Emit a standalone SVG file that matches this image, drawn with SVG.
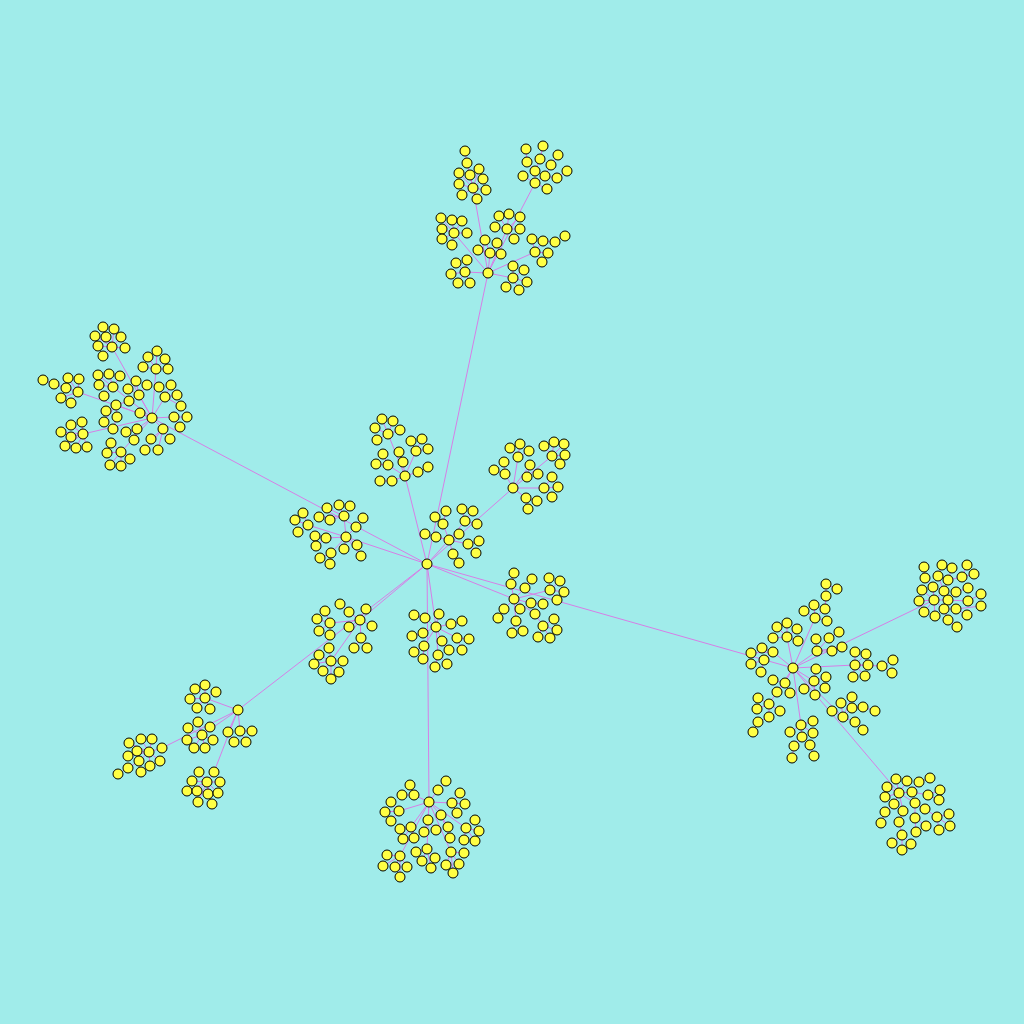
<svg xmlns="http://www.w3.org/2000/svg" width="1024" height="1024" viewBox="0 0 1024 1024">
<style>
.e{stroke:#d67fe6;stroke-width:1;fill:none}
circle{r:5px;fill:#ffff44;stroke:#000;stroke-width:1}
</style>
<rect width="1024" height="1024" fill="#a0ecea"/>
<g id="connectors">
<path class="e" d="M427 564L488 273M427 564L152 418M427 564L346 537M427 564L405 476M427 564L449 540M427 564L513 488M427 564L514 599M427 564L793 668M427 564L360 620M427 564L238 710M427 564L436 627M427 564L429 802M793 668L934 600M793 668L899 793"/>
<path class="e" d="M488 273L473 188M488 273L535 183M488 273L454 233M488 273L507 229M488 273L490 253M488 273L535 252M488 273L465 272M488 273L513 278M473 188L467 163L465 151M473 188L479 169M473 188L459 173M473 188L470 175M473 188L483 179M473 188L459 184M473 188L486 190M473 188L462 195M473 188L477 199M535 183L535 171L527 162L526 149M535 171L540 159L543 146M535 183L545 176L551 165L558 155M545 176L557 178L567 171M535 183L523 176M535 183L547 189M454 233L441 218M454 233L452 220M454 233L462 221M454 233L442 229M454 233L467 233M454 233L442 239M454 233L452 245M507 229L499 216M507 229L509 214M507 229L520 217M507 229L495 227M507 229L520 229M507 229L514 239M490 253L485 240M490 253L497 243M490 253L478 250M490 253L501 254M535 252L532 239M535 252L543 241L555 242L565 236M535 252L548 253M535 252L542 262M465 272L456 263M465 272L467 260M465 272L451 274M465 272L458 283M465 272L470 283M513 278L513 266M513 278L524 270M513 278L527 282M513 278L506 287M513 278L519 290"/>
<path class="e" d="M152 418L112 347M152 418L156 369M152 418L78 392M152 418L113 387M152 418L139 395M152 418L165 397M152 418L116 405M152 418L174 417M152 418L137 429M152 418L163 429M152 418L121 452M152 418L83 434M152 418L140 413M112 347L103 327M112 347L114 329M112 347L95 336M112 347L106 337M112 347L121 337M112 347L98 346M112 347L125 348M112 347L103 356M156 369L157 351M156 369L148 357M156 369L165 359M156 369L143 367M156 369L168 369M78 392L66 388L54 384L43 380M78 392L68 378M78 392L79 379M78 392L61 398M78 392L71 403M113 387L98 375M113 387L109 374M113 387L120 376M113 387L99 385M113 387L104 396M139 395L136 381M139 395L147 385M139 395L128 389M165 397L159 387M165 397L171 385M165 397L177 395M165 397L181 406M116 405L129 401M116 405L106 411M116 405L117 417M116 405L104 422M117 417L113 429M174 417L187 417M174 417L180 427M137 429L126 432M137 429L134 440M163 429L151 439M163 429L170 439M163 429L145 450M163 429L158 450M121 452L111 443M121 452L107 453M121 452L130 459M121 452L110 465M121 452L121 466M83 434L71 425M83 434L82 422M83 434L61 432M83 434L71 437M83 434L65 446M83 434L76 448M83 434L87 447"/>
<path class="e" d="M405 476L388 434M405 476L416 451M405 476L403 462M405 476L388 465M405 476L418 472L428 467M405 476L392 481L380 481M388 434L382 419M388 434L393 421M388 434L375 428M388 434L400 430M388 434L377 440M416 451L411 441M416 451L422 439M416 451L428 449M403 462L399 452M388 465L383 454M388 465L376 464"/>
<path class="e" d="M346 537L344 516M346 537L308 525M346 537L326 538M346 537L356 527M346 537L331 553M346 537L357 545M346 537L344 549M346 537L361 556M344 516L339 505M344 516L350 506M344 516L327 508M344 516L330 520M344 516L319 517M308 525L303 513M308 525L295 520M308 525L298 532M326 538L315 536M326 538L316 546M356 527L363 518M331 553L320 558M331 553L330 564"/>
<path class="e" d="M449 540L443 524M449 540L465 521M449 540L425 534M449 540L436 537M449 540L468 544M449 540L453 554L459 563M449 540L459 534M443 524L435 517M443 524L446 511M465 521L462 509M465 521L473 511M465 521L477 524M468 544L479 541M468 544L476 553"/>
<path class="e" d="M513 488L518 457M513 488L505 474M513 488L552 456M513 488L530 465M513 488L544 488M513 488L526 498M518 457L510 448M518 457L520 444M518 457L529 451M505 474L504 462M505 474L494 470M552 456L544 446M552 456L554 442M552 456L564 444M552 456L565 455M552 456L560 464M530 465L538 474M530 465L527 477M544 488L552 477M544 488L558 487M544 488L552 497M526 498L537 501M526 498L528 509"/>
<path class="e" d="M360 620L330 623M360 620L349 612L340 604M360 620L366 609M360 620L372 626M360 620L349 627M360 620L361 638M360 620L331 661M330 623L325 611M330 623L317 619M330 623L319 631M330 623L330 635M361 638L354 648M361 638L367 648M331 661L329 648M331 661L319 655M331 661L343 661M331 661L314 664M331 661L323 671M331 661L339 672M331 661L331 679"/>
<path class="e" d="M436 627L425 618L414 615M436 627L451 624L462 621M436 627L439 614M436 627L423 633L412 636M436 627L457 638M436 627L442 641M436 627L424 646M436 627L438 655M457 638L469 639M457 638L462 650M442 641L449 650M424 646L414 652M424 646L423 659M438 655L435 667M438 655L447 664"/>
<path class="e" d="M514 599L511 584L514 573M514 599L525 588L532 579M514 599L550 590M514 599L531 603L543 604M514 599L504 609L498 618M514 599L520 609M514 599L535 614L543 626M514 599L516 621M550 590L549 578M550 590L560 581M550 590L564 592M550 590L557 600M516 621L512 633M516 621L523 631M543 626L554 619M543 626L557 630M543 626L538 637M543 626L550 638"/>
<path class="e" d="M238 710L205 698M238 710L202 735M238 710L240 731M238 710L228 732L234 742M238 710L162 748M238 710L214 772M205 698L195 689M205 698L205 685M205 698L216 692M205 698L190 699M205 698L197 708M205 698L210 709M202 735L198 722M202 735L210 727M202 735L188 728M202 735L187 740M202 735L213 740M202 735L194 748M202 735L205 748M240 731L252 731M240 731L246 742M162 748L149 752M149 752L141 739M149 752L152 739M149 752L129 743M149 752L137 751M149 752L128 756M149 752L139 761M149 752L150 766M149 752L160 761M139 761L128 768M139 761L141 772M128 768L118 774M214 772L207 782M207 782L199 772M207 782L192 781M207 782L220 782M207 782L187 791M207 782L197 791M207 782L208 794M207 782L218 793M207 782L198 802M207 782L212 804"/>
<path class="e" d="M429 802L414 795M429 802L438 790M429 802L399 811M429 802L452 803M429 802L411 827M429 802L428 820M429 802L441 815M429 802L466 828M429 802L400 856M429 802L427 849M429 802L451 852M414 795L410 785M414 795L402 795M438 790L446 781M399 811L391 802M399 811L385 812M399 811L391 821M452 803L460 793M452 803L465 804M452 803L457 813M411 827L400 829M411 827L403 839M411 827L414 838M428 820L424 832M428 820L436 830M441 815L448 827M441 815L450 838M466 828L475 820M466 828L479 831M466 828L464 840M466 828L475 841M400 856L387 855M400 856L383 866M400 856L395 867M400 856L407 867M400 856L400 877M427 849L416 852M427 849L422 861M427 849L435 858M427 849L431 868M451 852L464 853M451 852L446 865M451 852L459 864M451 852L453 873"/>
<path class="e" d="M793 668L815 618M793 668L787 637M793 668L817 651M793 668L773 652M793 668L855 665L882 666M793 668L814 681M793 668L785 683M793 668L769 704M793 668L843 717M793 668L801 725M815 618L825 609L826 596L826 584M826 584L837 589M815 618L814 605M815 618L804 611M815 618L827 621M787 637L787 623M787 637L777 627M787 637L797 629M787 637L773 638M787 637L798 641M817 651L816 639M817 651L829 638L839 632M817 651L832 651M817 651L842 647M773 652L762 648M773 652L751 653M773 652L764 660M764 660L751 664M764 660L761 672M855 665L855 652M855 665L866 654M855 665L868 665M855 665L853 677M855 665L865 676M882 666L893 660M882 666L892 673M814 681L816 669M814 681L826 677M814 681L804 689M814 681L825 688M814 681L815 695M785 683L773 680M785 683L777 692M785 683L790 693M769 704L758 698M769 704L780 711M769 704L757 709M769 704L769 717M769 717L758 722M758 722L753 732M843 717L852 697M843 717L841 703M843 717L832 711M843 717L852 708M852 708L863 707M863 707L875 711M843 717L855 722M855 722L863 730M801 725L813 721M801 725L790 732M801 725L802 737M801 725L813 733M802 737L794 746M802 737L810 745M794 746L792 758M810 745L814 756"/>
<path class="e" d="M934 600L933 587L925 578L924 567M934 600L944 591L938 576L942 565M944 591L948 580L952 568M948 580L962 577L967 565M962 577L974 574M934 600L948 600L956 592L968 588M948 600L968 601L981 594M934 600L944 609L956 609L967 615M956 609L981 606M944 609L948 620L957 627M934 600L935 616M934 600L924 612M934 600L919 601M934 600L922 590"/>
<path class="e" d="M899 793L896 779M899 793L907 781M899 793L887 787M899 793L912 792L919 782L930 778M912 792L928 795L940 790M928 795L939 800M899 793L885 797M899 793L894 804L885 812L881 823M899 793L915 803L925 809L937 817L949 814M937 817L950 826M937 817L939 830M899 793L903 811L899 822L902 835L892 843M902 835L911 844M902 835L902 850M915 803L915 818L926 826M915 818L916 832"/>
</g>
<g id="nodes">
<g id="c0"><circle cx="427" cy="564"/></g>
<g id="t0"><circle cx="488" cy="273"/></g><g id="t1"><circle cx="465" cy="151"/></g><g id="t2"><circle cx="467" cy="163"/></g><g id="t3"><circle cx="479" cy="169"/></g><g id="t4"><circle cx="459" cy="173"/></g><g id="t5"><circle cx="470" cy="175"/></g><g id="t6"><circle cx="483" cy="179"/></g><g id="t7"><circle cx="459" cy="184"/></g><g id="t8"><circle cx="473" cy="188"/></g><g id="t9"><circle cx="486" cy="190"/></g><g id="t10"><circle cx="462" cy="195"/></g><g id="t11"><circle cx="477" cy="199"/></g><g id="t12"><circle cx="526" cy="149"/></g><g id="t13"><circle cx="543" cy="146"/></g><g id="t14"><circle cx="527" cy="162"/></g><g id="t15"><circle cx="540" cy="159"/></g><g id="t16"><circle cx="558" cy="155"/></g><g id="t17"><circle cx="551" cy="165"/></g><g id="t18"><circle cx="535" cy="171"/></g><g id="t19"><circle cx="523" cy="176"/></g><g id="t20"><circle cx="545" cy="176"/></g><g id="t21"><circle cx="557" cy="178"/></g><g id="t22"><circle cx="567" cy="171"/></g><g id="t23"><circle cx="535" cy="183"/></g><g id="t24"><circle cx="547" cy="189"/></g><g id="t25"><circle cx="441" cy="218"/></g><g id="t26"><circle cx="452" cy="220"/></g><g id="t27"><circle cx="462" cy="221"/></g><g id="t28"><circle cx="442" cy="229"/></g><g id="t29"><circle cx="454" cy="233"/></g><g id="t30"><circle cx="467" cy="233"/></g><g id="t31"><circle cx="442" cy="239"/></g><g id="t32"><circle cx="452" cy="245"/></g><g id="t33"><circle cx="499" cy="216"/></g><g id="t34"><circle cx="509" cy="214"/></g><g id="t35"><circle cx="520" cy="217"/></g><g id="t36"><circle cx="495" cy="227"/></g><g id="t37"><circle cx="507" cy="229"/></g><g id="t38"><circle cx="520" cy="229"/></g><g id="t39"><circle cx="514" cy="239"/></g><g id="t40"><circle cx="485" cy="240"/></g><g id="t41"><circle cx="497" cy="243"/></g><g id="t42"><circle cx="478" cy="250"/></g><g id="t43"><circle cx="490" cy="253"/></g><g id="t44"><circle cx="501" cy="254"/></g><g id="t45"><circle cx="532" cy="239"/></g><g id="t46"><circle cx="543" cy="241"/></g><g id="t47"><circle cx="555" cy="242"/></g><g id="t48"><circle cx="565" cy="236"/></g><g id="t49"><circle cx="535" cy="252"/></g><g id="t50"><circle cx="548" cy="253"/></g><g id="t51"><circle cx="542" cy="262"/></g><g id="t52"><circle cx="456" cy="263"/></g><g id="t53"><circle cx="467" cy="260"/></g><g id="t54"><circle cx="465" cy="272"/></g><g id="t55"><circle cx="451" cy="274"/></g><g id="t56"><circle cx="458" cy="283"/></g><g id="t57"><circle cx="470" cy="283"/></g><g id="t58"><circle cx="513" cy="266"/></g><g id="t59"><circle cx="524" cy="270"/></g><g id="t60"><circle cx="513" cy="278"/></g><g id="t61"><circle cx="527" cy="282"/></g><g id="t62"><circle cx="506" cy="287"/></g><g id="t63"><circle cx="519" cy="290"/></g>
<g id="a0"><circle cx="152" cy="418"/></g><g id="a1"><circle cx="103" cy="327"/></g><g id="a2"><circle cx="114" cy="329"/></g><g id="a3"><circle cx="95" cy="336"/></g><g id="a4"><circle cx="106" cy="337"/></g><g id="a5"><circle cx="121" cy="337"/></g><g id="a6"><circle cx="98" cy="346"/></g><g id="a7"><circle cx="112" cy="347"/></g><g id="a8"><circle cx="125" cy="348"/></g><g id="a9"><circle cx="103" cy="356"/></g><g id="a10"><circle cx="157" cy="351"/></g><g id="a11"><circle cx="148" cy="357"/></g><g id="a12"><circle cx="165" cy="359"/></g><g id="a13"><circle cx="143" cy="367"/></g><g id="a14"><circle cx="156" cy="369"/></g><g id="a15"><circle cx="168" cy="369"/></g><g id="a16"><circle cx="43" cy="380"/></g><g id="a17"><circle cx="54" cy="384"/></g><g id="a18"><circle cx="68" cy="378"/></g><g id="a19"><circle cx="79" cy="379"/></g><g id="a20"><circle cx="66" cy="388"/></g><g id="a21"><circle cx="78" cy="392"/></g><g id="a22"><circle cx="61" cy="398"/></g><g id="a23"><circle cx="71" cy="403"/></g><g id="a24"><circle cx="98" cy="375"/></g><g id="a25"><circle cx="109" cy="374"/></g><g id="a26"><circle cx="120" cy="376"/></g><g id="a27"><circle cx="99" cy="385"/></g><g id="a28"><circle cx="113" cy="387"/></g><g id="a29"><circle cx="104" cy="396"/></g><g id="a30"><circle cx="136" cy="381"/></g><g id="a31"><circle cx="147" cy="385"/></g><g id="a32"><circle cx="128" cy="389"/></g><g id="a33"><circle cx="139" cy="395"/></g><g id="a34"><circle cx="159" cy="387"/></g><g id="a35"><circle cx="171" cy="385"/></g><g id="a36"><circle cx="165" cy="397"/></g><g id="a37"><circle cx="177" cy="395"/></g><g id="a38"><circle cx="181" cy="406"/></g><g id="a39"><circle cx="129" cy="401"/></g><g id="a40"><circle cx="116" cy="405"/></g><g id="a41"><circle cx="106" cy="411"/></g><g id="a42"><circle cx="140" cy="413"/></g><g id="a43"><circle cx="117" cy="417"/></g><g id="a44"><circle cx="104" cy="422"/></g><g id="a45"><circle cx="113" cy="429"/></g><g id="a46"><circle cx="174" cy="417"/></g><g id="a47"><circle cx="187" cy="417"/></g><g id="a48"><circle cx="180" cy="427"/></g><g id="a49"><circle cx="126" cy="432"/></g><g id="a50"><circle cx="137" cy="429"/></g><g id="a51"><circle cx="134" cy="440"/></g><g id="a52"><circle cx="163" cy="429"/></g><g id="a53"><circle cx="151" cy="439"/></g><g id="a54"><circle cx="170" cy="439"/></g><g id="a55"><circle cx="145" cy="450"/></g><g id="a56"><circle cx="158" cy="450"/></g><g id="a57"><circle cx="111" cy="443"/></g><g id="a58"><circle cx="121" cy="452"/></g><g id="a59"><circle cx="107" cy="453"/></g><g id="a60"><circle cx="130" cy="459"/></g><g id="a61"><circle cx="110" cy="465"/></g><g id="a62"><circle cx="121" cy="466"/></g><g id="a63"><circle cx="71" cy="425"/></g><g id="a64"><circle cx="82" cy="422"/></g><g id="a65"><circle cx="61" cy="432"/></g><g id="a66"><circle cx="71" cy="437"/></g><g id="a67"><circle cx="83" cy="434"/></g><g id="a68"><circle cx="65" cy="446"/></g><g id="a69"><circle cx="76" cy="448"/></g><g id="a70"><circle cx="87" cy="447"/></g>
<g id="u0"><circle cx="405" cy="476"/></g><g id="u1"><circle cx="382" cy="419"/></g><g id="u2"><circle cx="393" cy="421"/></g><g id="u3"><circle cx="375" cy="428"/></g><g id="u4"><circle cx="388" cy="434"/></g><g id="u5"><circle cx="400" cy="430"/></g><g id="u6"><circle cx="377" cy="440"/></g><g id="u7"><circle cx="411" cy="441"/></g><g id="u8"><circle cx="422" cy="439"/></g><g id="u9"><circle cx="416" cy="451"/></g><g id="u10"><circle cx="428" cy="449"/></g><g id="u11"><circle cx="399" cy="452"/></g><g id="u12"><circle cx="383" cy="454"/></g><g id="u13"><circle cx="403" cy="462"/></g><g id="u14"><circle cx="376" cy="464"/></g><g id="u15"><circle cx="388" cy="465"/></g><g id="u16"><circle cx="428" cy="467"/></g><g id="u17"><circle cx="418" cy="472"/></g><g id="u18"><circle cx="380" cy="481"/></g><g id="u19"><circle cx="392" cy="481"/></g>
<g id="l0"><circle cx="346" cy="537"/></g><g id="l1"><circle cx="339" cy="505"/></g><g id="l2"><circle cx="350" cy="506"/></g><g id="l3"><circle cx="327" cy="508"/></g><g id="l4"><circle cx="303" cy="513"/></g><g id="l5"><circle cx="319" cy="517"/></g><g id="l6"><circle cx="344" cy="516"/></g><g id="l7"><circle cx="363" cy="518"/></g><g id="l8"><circle cx="330" cy="520"/></g><g id="l9"><circle cx="295" cy="520"/></g><g id="l10"><circle cx="308" cy="525"/></g><g id="l11"><circle cx="356" cy="527"/></g><g id="l12"><circle cx="298" cy="532"/></g><g id="l13"><circle cx="315" cy="536"/></g><g id="l14"><circle cx="326" cy="538"/></g><g id="l15"><circle cx="357" cy="545"/></g><g id="l16"><circle cx="316" cy="546"/></g><g id="l17"><circle cx="344" cy="549"/></g><g id="l18"><circle cx="331" cy="553"/></g><g id="l19"><circle cx="361" cy="556"/></g><g id="l20"><circle cx="320" cy="558"/></g><g id="l21"><circle cx="330" cy="564"/></g>
<g id="p0"><circle cx="449" cy="540"/></g><g id="p1"><circle cx="435" cy="517"/></g><g id="p2"><circle cx="446" cy="511"/></g><g id="p3"><circle cx="462" cy="509"/></g><g id="p4"><circle cx="473" cy="511"/></g><g id="p5"><circle cx="443" cy="524"/></g><g id="p6"><circle cx="465" cy="521"/></g><g id="p7"><circle cx="477" cy="524"/></g><g id="p8"><circle cx="425" cy="534"/></g><g id="p9"><circle cx="436" cy="537"/></g><g id="p10"><circle cx="459" cy="534"/></g><g id="p11"><circle cx="468" cy="544"/></g><g id="p12"><circle cx="479" cy="541"/></g><g id="p13"><circle cx="453" cy="554"/></g><g id="p14"><circle cx="476" cy="553"/></g><g id="p15"><circle cx="459" cy="563"/></g>
<g id="q0"><circle cx="513" cy="488"/></g><g id="q1"><circle cx="510" cy="448"/></g><g id="q2"><circle cx="520" cy="444"/></g><g id="q3"><circle cx="529" cy="451"/></g><g id="q4"><circle cx="518" cy="457"/></g><g id="q5"><circle cx="504" cy="462"/></g><g id="q6"><circle cx="494" cy="470"/></g><g id="q7"><circle cx="505" cy="474"/></g><g id="q8"><circle cx="544" cy="446"/></g><g id="q9"><circle cx="554" cy="442"/></g><g id="q10"><circle cx="564" cy="444"/></g><g id="q11"><circle cx="552" cy="456"/></g><g id="q12"><circle cx="565" cy="455"/></g><g id="q13"><circle cx="560" cy="464"/></g><g id="q14"><circle cx="530" cy="465"/></g><g id="q15"><circle cx="538" cy="474"/></g><g id="q16"><circle cx="527" cy="477"/></g><g id="q17"><circle cx="552" cy="477"/></g><g id="q18"><circle cx="544" cy="488"/></g><g id="q19"><circle cx="558" cy="487"/></g><g id="q20"><circle cx="552" cy="497"/></g><g id="q21"><circle cx="526" cy="498"/></g><g id="q22"><circle cx="537" cy="501"/></g><g id="q23"><circle cx="528" cy="509"/></g>
<g id="m0"><circle cx="360" cy="620"/></g><g id="m1"><circle cx="340" cy="604"/></g><g id="m2"><circle cx="325" cy="611"/></g><g id="m3"><circle cx="349" cy="612"/></g><g id="m4"><circle cx="366" cy="609"/></g><g id="m5"><circle cx="317" cy="619"/></g><g id="m6"><circle cx="330" cy="623"/></g><g id="m7"><circle cx="372" cy="626"/></g><g id="m8"><circle cx="349" cy="627"/></g><g id="m9"><circle cx="319" cy="631"/></g><g id="m10"><circle cx="330" cy="635"/></g><g id="m11"><circle cx="361" cy="638"/></g><g id="m12"><circle cx="354" cy="648"/></g><g id="m13"><circle cx="367" cy="648"/></g><g id="m14"><circle cx="329" cy="648"/></g><g id="m15"><circle cx="319" cy="655"/></g><g id="m16"><circle cx="331" cy="661"/></g><g id="m17"><circle cx="343" cy="661"/></g><g id="m18"><circle cx="314" cy="664"/></g><g id="m19"><circle cx="323" cy="671"/></g><g id="m20"><circle cx="339" cy="672"/></g><g id="m21"><circle cx="331" cy="679"/></g>
<g id="k0"><circle cx="436" cy="627"/></g><g id="k1"><circle cx="414" cy="615"/></g><g id="k2"><circle cx="425" cy="618"/></g><g id="k3"><circle cx="439" cy="614"/></g><g id="k4"><circle cx="451" cy="624"/></g><g id="k5"><circle cx="462" cy="621"/></g><g id="k6"><circle cx="412" cy="636"/></g><g id="k7"><circle cx="423" cy="633"/></g><g id="k8"><circle cx="442" cy="641"/></g><g id="k9"><circle cx="457" cy="638"/></g><g id="k10"><circle cx="469" cy="639"/></g><g id="k11"><circle cx="424" cy="646"/></g><g id="k12"><circle cx="449" cy="650"/></g><g id="k13"><circle cx="462" cy="650"/></g><g id="k14"><circle cx="414" cy="652"/></g><g id="k15"><circle cx="438" cy="655"/></g><g id="k16"><circle cx="423" cy="659"/></g><g id="k17"><circle cx="435" cy="667"/></g><g id="k18"><circle cx="447" cy="664"/></g>
<g id="s0"><circle cx="514" cy="599"/></g><g id="s1"><circle cx="514" cy="573"/></g><g id="s2"><circle cx="532" cy="579"/></g><g id="s3"><circle cx="549" cy="578"/></g><g id="s4"><circle cx="560" cy="581"/></g><g id="s5"><circle cx="511" cy="584"/></g><g id="s6"><circle cx="525" cy="588"/></g><g id="s7"><circle cx="550" cy="590"/></g><g id="s8"><circle cx="564" cy="592"/></g><g id="s9"><circle cx="557" cy="600"/></g><g id="s10"><circle cx="531" cy="603"/></g><g id="s11"><circle cx="543" cy="604"/></g><g id="s12"><circle cx="504" cy="609"/></g><g id="s13"><circle cx="520" cy="609"/></g><g id="s14"><circle cx="535" cy="614"/></g><g id="s15"><circle cx="498" cy="618"/></g><g id="s16"><circle cx="554" cy="619"/></g><g id="s17"><circle cx="516" cy="621"/></g><g id="s18"><circle cx="543" cy="626"/></g><g id="s19"><circle cx="557" cy="630"/></g><g id="s20"><circle cx="512" cy="633"/></g><g id="s21"><circle cx="523" cy="631"/></g><g id="s22"><circle cx="538" cy="637"/></g><g id="s23"><circle cx="550" cy="638"/></g>
<g id="w0"><circle cx="238" cy="710"/></g><g id="w1"><circle cx="195" cy="689"/></g><g id="w2"><circle cx="205" cy="685"/></g><g id="w3"><circle cx="216" cy="692"/></g><g id="w4"><circle cx="190" cy="699"/></g><g id="w5"><circle cx="205" cy="698"/></g><g id="w6"><circle cx="197" cy="708"/></g><g id="w7"><circle cx="210" cy="709"/></g><g id="w8"><circle cx="198" cy="722"/></g><g id="w9"><circle cx="210" cy="727"/></g><g id="w10"><circle cx="188" cy="728"/></g><g id="w11"><circle cx="202" cy="735"/></g><g id="w12"><circle cx="187" cy="740"/></g><g id="w13"><circle cx="213" cy="740"/></g><g id="w14"><circle cx="194" cy="748"/></g><g id="w15"><circle cx="205" cy="748"/></g><g id="w16"><circle cx="228" cy="732"/></g><g id="w17"><circle cx="240" cy="731"/></g><g id="w18"><circle cx="252" cy="731"/></g><g id="w19"><circle cx="234" cy="742"/></g><g id="w20"><circle cx="246" cy="742"/></g><g id="w21"><circle cx="141" cy="739"/></g><g id="w22"><circle cx="152" cy="739"/></g><g id="w23"><circle cx="129" cy="743"/></g><g id="w24"><circle cx="137" cy="751"/></g><g id="w25"><circle cx="149" cy="752"/></g><g id="w26"><circle cx="162" cy="748"/></g><g id="w27"><circle cx="128" cy="756"/></g><g id="w28"><circle cx="139" cy="761"/></g><g id="w29"><circle cx="150" cy="766"/></g><g id="w30"><circle cx="160" cy="761"/></g><g id="w31"><circle cx="128" cy="768"/></g><g id="w32"><circle cx="141" cy="772"/></g><g id="w33"><circle cx="118" cy="774"/></g><g id="w34"><circle cx="199" cy="772"/></g><g id="w35"><circle cx="214" cy="772"/></g><g id="w36"><circle cx="192" cy="781"/></g><g id="w37"><circle cx="207" cy="782"/></g><g id="w38"><circle cx="220" cy="782"/></g><g id="w39"><circle cx="187" cy="791"/></g><g id="w40"><circle cx="197" cy="791"/></g><g id="w41"><circle cx="208" cy="794"/></g><g id="w42"><circle cx="218" cy="793"/></g><g id="w43"><circle cx="198" cy="802"/></g><g id="w44"><circle cx="212" cy="804"/></g>
<g id="b0"><circle cx="429" cy="802"/></g><g id="b1"><circle cx="410" cy="785"/></g><g id="b2"><circle cx="446" cy="781"/></g><g id="b3"><circle cx="402" cy="795"/></g><g id="b4"><circle cx="414" cy="795"/></g><g id="b5"><circle cx="438" cy="790"/></g><g id="b6"><circle cx="391" cy="802"/></g><g id="b7"><circle cx="452" cy="803"/></g><g id="b8"><circle cx="460" cy="793"/></g><g id="b9"><circle cx="465" cy="804"/></g><g id="b10"><circle cx="385" cy="812"/></g><g id="b11"><circle cx="399" cy="811"/></g><g id="b12"><circle cx="457" cy="813"/></g><g id="b13"><circle cx="441" cy="815"/></g><g id="b14"><circle cx="391" cy="821"/></g><g id="b15"><circle cx="428" cy="820"/></g><g id="b16"><circle cx="400" cy="829"/></g><g id="b17"><circle cx="411" cy="827"/></g><g id="b18"><circle cx="448" cy="827"/></g><g id="b19"><circle cx="466" cy="828"/></g><g id="b20"><circle cx="475" cy="820"/></g><g id="b21"><circle cx="479" cy="831"/></g><g id="b22"><circle cx="424" cy="832"/></g><g id="b23"><circle cx="436" cy="830"/></g><g id="b24"><circle cx="403" cy="839"/></g><g id="b25"><circle cx="414" cy="838"/></g><g id="b26"><circle cx="450" cy="838"/></g><g id="b27"><circle cx="464" cy="840"/></g><g id="b28"><circle cx="475" cy="841"/></g><g id="b29"><circle cx="427" cy="849"/></g><g id="b30"><circle cx="416" cy="852"/></g><g id="b31"><circle cx="387" cy="855"/></g><g id="b32"><circle cx="400" cy="856"/></g><g id="b33"><circle cx="451" cy="852"/></g><g id="b34"><circle cx="464" cy="853"/></g><g id="b35"><circle cx="435" cy="858"/></g><g id="b36"><circle cx="422" cy="861"/></g><g id="b37"><circle cx="383" cy="866"/></g><g id="b38"><circle cx="395" cy="867"/></g><g id="b39"><circle cx="407" cy="867"/></g><g id="b40"><circle cx="446" cy="865"/></g><g id="b41"><circle cx="459" cy="864"/></g><g id="b42"><circle cx="431" cy="868"/></g><g id="b43"><circle cx="400" cy="877"/></g><g id="b44"><circle cx="453" cy="873"/></g>
<g id="r0"><circle cx="793" cy="668"/></g><g id="r1"><circle cx="826" cy="584"/></g><g id="r2"><circle cx="837" cy="589"/></g><g id="r3"><circle cx="826" cy="596"/></g><g id="r4"><circle cx="814" cy="605"/></g><g id="r5"><circle cx="825" cy="609"/></g><g id="r6"><circle cx="804" cy="611"/></g><g id="r7"><circle cx="815" cy="618"/></g><g id="r8"><circle cx="827" cy="621"/></g><g id="r9"><circle cx="787" cy="623"/></g><g id="r10"><circle cx="777" cy="627"/></g><g id="r11"><circle cx="797" cy="629"/></g><g id="r12"><circle cx="787" cy="637"/></g><g id="r13"><circle cx="773" cy="638"/></g><g id="r14"><circle cx="798" cy="641"/></g><g id="r15"><circle cx="816" cy="639"/></g><g id="r16"><circle cx="829" cy="638"/></g><g id="r17"><circle cx="839" cy="632"/></g><g id="r18"><circle cx="762" cy="648"/></g><g id="r19"><circle cx="751" cy="653"/></g><g id="r20"><circle cx="773" cy="652"/></g><g id="r21"><circle cx="817" cy="651"/></g><g id="r22"><circle cx="832" cy="651"/></g><g id="r23"><circle cx="842" cy="647"/></g><g id="r24"><circle cx="855" cy="652"/></g><g id="r25"><circle cx="866" cy="654"/></g><g id="r26"><circle cx="764" cy="660"/></g><g id="r27"><circle cx="751" cy="664"/></g><g id="r28"><circle cx="855" cy="665"/></g><g id="r29"><circle cx="868" cy="665"/></g><g id="r30"><circle cx="882" cy="666"/></g><g id="r31"><circle cx="893" cy="660"/></g><g id="r32"><circle cx="892" cy="673"/></g><g id="r33"><circle cx="816" cy="669"/></g><g id="r34"><circle cx="761" cy="672"/></g><g id="r35"><circle cx="826" cy="677"/></g><g id="r36"><circle cx="853" cy="677"/></g><g id="r37"><circle cx="865" cy="676"/></g><g id="r38"><circle cx="773" cy="680"/></g><g id="r39"><circle cx="785" cy="683"/></g><g id="r40"><circle cx="814" cy="681"/></g><g id="r41"><circle cx="804" cy="689"/></g><g id="r42"><circle cx="825" cy="688"/></g><g id="r43"><circle cx="777" cy="692"/></g><g id="r44"><circle cx="790" cy="693"/></g><g id="r45"><circle cx="815" cy="695"/></g><g id="r46"><circle cx="758" cy="698"/></g><g id="r47"><circle cx="769" cy="704"/></g><g id="r48"><circle cx="852" cy="697"/></g><g id="r49"><circle cx="841" cy="703"/></g><g id="r50"><circle cx="780" cy="711"/></g><g id="r51"><circle cx="757" cy="709"/></g><g id="r52"><circle cx="832" cy="711"/></g><g id="r53"><circle cx="843" cy="717"/></g><g id="r54"><circle cx="852" cy="708"/></g><g id="r55"><circle cx="863" cy="707"/></g><g id="r56"><circle cx="875" cy="711"/></g><g id="r57"><circle cx="769" cy="717"/></g><g id="r58"><circle cx="855" cy="722"/></g><g id="r59"><circle cx="758" cy="722"/></g><g id="r60"><circle cx="863" cy="730"/></g><g id="r61"><circle cx="753" cy="732"/></g><g id="r62"><circle cx="801" cy="725"/></g><g id="r63"><circle cx="813" cy="721"/></g><g id="r64"><circle cx="790" cy="732"/></g><g id="r65"><circle cx="802" cy="737"/></g><g id="r66"><circle cx="813" cy="733"/></g><g id="r67"><circle cx="794" cy="746"/></g><g id="r68"><circle cx="810" cy="745"/></g><g id="r69"><circle cx="792" cy="758"/></g><g id="r70"><circle cx="814" cy="756"/></g>
<g id="x0"><circle cx="934" cy="600"/></g><g id="x1"><circle cx="924" cy="567"/></g><g id="x2"><circle cx="942" cy="565"/></g><g id="x3"><circle cx="952" cy="568"/></g><g id="x4"><circle cx="967" cy="565"/></g><g id="x5"><circle cx="925" cy="578"/></g><g id="x6"><circle cx="938" cy="576"/></g><g id="x7"><circle cx="948" cy="580"/></g><g id="x8"><circle cx="962" cy="577"/></g><g id="x9"><circle cx="974" cy="574"/></g><g id="x10"><circle cx="922" cy="590"/></g><g id="x11"><circle cx="933" cy="587"/></g><g id="x12"><circle cx="944" cy="591"/></g><g id="x13"><circle cx="956" cy="592"/></g><g id="x14"><circle cx="968" cy="588"/></g><g id="x15"><circle cx="919" cy="601"/></g><g id="x16"><circle cx="948" cy="600"/></g><g id="x17"><circle cx="968" cy="601"/></g><g id="x18"><circle cx="981" cy="594"/></g><g id="x19"><circle cx="924" cy="612"/></g><g id="x20"><circle cx="935" cy="616"/></g><g id="x21"><circle cx="944" cy="609"/></g><g id="x22"><circle cx="956" cy="609"/></g><g id="x23"><circle cx="967" cy="615"/></g><g id="x24"><circle cx="981" cy="606"/></g><g id="x25"><circle cx="948" cy="620"/></g><g id="x26"><circle cx="957" cy="627"/></g>
<g id="y0"><circle cx="899" cy="793"/></g><g id="y1"><circle cx="896" cy="779"/></g><g id="y2"><circle cx="907" cy="781"/></g><g id="y3"><circle cx="919" cy="782"/></g><g id="y4"><circle cx="930" cy="778"/></g><g id="y5"><circle cx="887" cy="787"/></g><g id="y6"><circle cx="912" cy="792"/></g><g id="y7"><circle cx="928" cy="795"/></g><g id="y8"><circle cx="940" cy="790"/></g><g id="y9"><circle cx="885" cy="797"/></g><g id="y10"><circle cx="894" cy="804"/></g><g id="y11"><circle cx="915" cy="803"/></g><g id="y12"><circle cx="939" cy="800"/></g><g id="y13"><circle cx="903" cy="811"/></g><g id="y14"><circle cx="925" cy="809"/></g><g id="y15"><circle cx="885" cy="812"/></g><g id="y16"><circle cx="937" cy="817"/></g><g id="y17"><circle cx="949" cy="814"/></g><g id="y18"><circle cx="915" cy="818"/></g><g id="y19"><circle cx="899" cy="822"/></g><g id="y20"><circle cx="926" cy="826"/></g><g id="y21"><circle cx="881" cy="823"/></g><g id="y22"><circle cx="950" cy="826"/></g><g id="y23"><circle cx="939" cy="830"/></g><g id="y24"><circle cx="902" cy="835"/></g><g id="y25"><circle cx="916" cy="832"/></g><g id="y26"><circle cx="892" cy="843"/></g><g id="y27"><circle cx="911" cy="844"/></g><g id="y28"><circle cx="902" cy="850"/></g>
</g>
</svg>
